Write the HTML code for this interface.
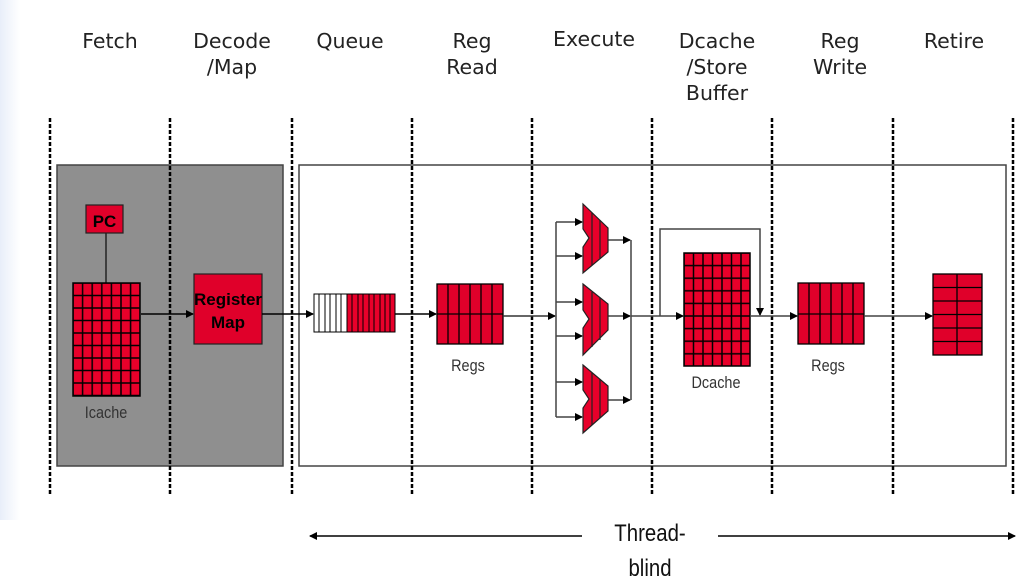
<!DOCTYPE html>
<html><head><meta charset="utf-8"><style>
html,body{margin:0;padding:0;background:#fff;}
svg{display:block;}
</style></head><body>
<svg width="1036" height="588" viewBox="0 0 1036 588" xmlns="http://www.w3.org/2000/svg">
<defs>
<linearGradient id="lg" x1="0" x2="1"><stop offset="0" stop-color="#e8eef9"/><stop offset="1" stop-color="#ffffff"/></linearGradient>
<marker id="ah" markerWidth="8" markerHeight="8" refX="7" refY="4" orient="auto" markerUnits="userSpaceOnUse"><path d="M0,0 L8,4 L0,8 z" fill="#000"/></marker>
<pattern id="icg" x="73" y="283" width="9.6" height="12.5" patternUnits="userSpaceOnUse"><rect width="9.6" height="12.5" fill="#e8002a" stroke="#000" stroke-width="1.5"/></pattern>
<pattern id="dcg" x="684" y="253" width="9.5" height="12.6" patternUnits="userSpaceOnUse"><rect width="9.5" height="12.6" fill="#e8002a" stroke="#000" stroke-width="1.5"/></pattern>
</defs>
<rect x="0" y="0" width="20" height="520" fill="url(#lg)"/>
<g font-family="DejaVu Sans, sans-serif" font-size="20.5" fill="#222" text-anchor="middle">
<text x="110" y="48">Fetch</text>
<text x="232" y="48">Decode</text><text x="232" y="74">/Map</text>
<text x="350" y="48">Queue</text>
<text x="472" y="48">Reg</text><text x="472" y="74">Read</text>
<text x="594" y="46">Execute</text>
<text x="717" y="48">Dcache</text><text x="717" y="74">/Store</text><text x="717" y="100">Buffer</text>
<text x="840" y="48">Reg</text><text x="840" y="74">Write</text>
<text x="954" y="48">Retire</text>
</g>
<rect x="57" y="165" width="226" height="301" fill="#8f8f8f" stroke="#444" stroke-width="1.5"/>
<rect x="299" y="165" width="707" height="301" fill="#fff" stroke="#444" stroke-width="1.5"/>
<g stroke="#000" stroke-width="2.5" stroke-dasharray="4,2">
<line x1="50" y1="118" x2="50" y2="494"/><line x1="170" y1="118" x2="170" y2="494"/>
<line x1="292" y1="118" x2="292" y2="494"/><line x1="412" y1="118" x2="412" y2="494"/>
<line x1="532" y1="118" x2="532" y2="494"/><line x1="652" y1="118" x2="652" y2="494"/>
<line x1="772" y1="118" x2="772" y2="494"/><line x1="893" y1="118" x2="893" y2="494"/>
<line x1="1013" y1="118" x2="1013" y2="494"/>
</g>
<line x1="106" y1="233" x2="106" y2="283" stroke="#222" stroke-width="1.5"/>
<rect x="86" y="205" width="37" height="28" fill="#e0002a" stroke="#222" stroke-width="1.2"/>
<text x="104.5" y="227" font-family="Liberation Sans, sans-serif" font-weight="bold" font-size="17" text-anchor="middle">PC</text>
<rect x="73" y="283" width="67" height="113" fill="url(#icg)" stroke="#000" stroke-width="1.5"/>
<text x="106" y="418" font-family="Liberation Sans, sans-serif" font-size="17" fill="#333" text-anchor="middle" transform="translate(106 0) scale(0.85 1) translate(-106 0)">Icache</text>
<line x1="141" y1="314" x2="193" y2="314" stroke="#000" stroke-width="1.5" marker-end="url(#ah)"/>
<rect x="194" y="274" width="68" height="70" fill="#e0002a" stroke="#222" stroke-width="1.2"/>
<text x="228" y="305" font-family="Liberation Sans, sans-serif" font-weight="bold" font-size="17" text-anchor="middle">Register</text>
<text x="228" y="328" font-family="Liberation Sans, sans-serif" font-weight="bold" font-size="17" text-anchor="middle">Map</text>
<line x1="262" y1="314" x2="313" y2="314" stroke="#000" stroke-width="1.5" marker-end="url(#ah)"/>
<rect x="314" y="294" width="81" height="38" fill="#fff" stroke="#000" stroke-width="1"/>
<rect x="347" y="294" width="48" height="38" fill="#e8002a"/>
<g stroke="#000" stroke-width="1">
<line x1="319" y1="294" x2="319" y2="332"/><line x1="325" y1="294" x2="325" y2="332"/><line x1="330" y1="294" x2="330" y2="332"/><line x1="336" y1="294" x2="336" y2="332"/><line x1="341" y1="294" x2="341" y2="332"/><line x1="347" y1="294" x2="347" y2="332"/>
<line x1="352" y1="294" x2="352" y2="332"/><line x1="358" y1="294" x2="358" y2="332"/><line x1="363" y1="294" x2="363" y2="332"/><line x1="369" y1="294" x2="369" y2="332"/><line x1="374" y1="294" x2="374" y2="332"/><line x1="380" y1="294" x2="380" y2="332"/><line x1="385" y1="294" x2="385" y2="332"/><line x1="390" y1="294" x2="390" y2="332"/>
<rect x="314" y="294" width="81" height="38" fill="none"/>
</g>
<line x1="395" y1="314" x2="436" y2="314" stroke="#000" stroke-width="1.5" marker-end="url(#ah)"/>
<g stroke="#000" stroke-width="1.3">
<rect x="437" y="284" width="66" height="60" fill="#e0002a"/>
<line x1="448" y1="284" x2="448" y2="344"/><line x1="459" y1="284" x2="459" y2="344"/><line x1="470" y1="284" x2="470" y2="344"/><line x1="481" y1="284" x2="481" y2="344"/><line x1="492" y1="284" x2="492" y2="344"/>
<line x1="437" y1="314" x2="503" y2="314"/>
</g>
<text x="468" y="371" font-family="Liberation Sans, sans-serif" font-size="17" fill="#333" text-anchor="middle" transform="translate(468 0) scale(0.85 1) translate(-468 0)">Regs</text>
<line x1="503" y1="316" x2="555" y2="316" stroke="#333" stroke-width="1.5" marker-end="url(#ah)"/>
<g stroke="#444" stroke-width="1.5" fill="none">
<line x1="556" y1="222" x2="556" y2="417"/>
<line x1="556" y1="222" x2="582" y2="222" marker-end="url(#ah)"/>
<line x1="556" y1="256" x2="582" y2="256" marker-end="url(#ah)"/>
<line x1="556" y1="302" x2="582" y2="302" marker-end="url(#ah)"/>
<line x1="556" y1="336" x2="582" y2="336" marker-end="url(#ah)"/>
<line x1="556" y1="382" x2="582" y2="382" marker-end="url(#ah)"/>
<line x1="556" y1="417" x2="582" y2="417" marker-end="url(#ah)"/>
<line x1="608" y1="240" x2="630" y2="240" marker-end="url(#ah)"/>
<line x1="608" y1="316" x2="630" y2="316" marker-end="url(#ah)"/>
<line x1="608" y1="400" x2="630" y2="400" marker-end="url(#ah)"/>
<line x1="631" y1="240" x2="631" y2="400"/>
<line x1="631" y1="316" x2="683" y2="316" marker-end="url(#ah)"/>
<polyline points="660,316 660,229 760,229 760,315" marker-end="url(#ah)"/>
</g>
<g stroke="#222" stroke-width="1.2" fill="#e8002a">
<path d="M583,204 L608,228 L608,252 L583,273 L583,247 L589,238 L583,229 Z"/>
<path d="M583,284 L608,304 L608,330 L583,355 L583,328 L589,319 L583,310 Z"/>
<path d="M583,365 L608,386 L608,411 L583,433 L583,408 L589,399 L583,390 Z"/>
<line x1="592" y1="213" x2="592" y2="265"/><line x1="600" y1="220" x2="600" y2="258"/>
<line x1="592" y1="292" x2="592" y2="347"/><line x1="600" y1="298" x2="600" y2="340"/>
<line x1="592" y1="373" x2="592" y2="425"/><line x1="600" y1="379" x2="600" y2="418"/>
</g>
<rect x="684" y="253" width="66" height="113" fill="url(#dcg)" stroke="#000" stroke-width="1.5"/>
<text x="716" y="388" font-family="Liberation Sans, sans-serif" font-size="17" fill="#333" text-anchor="middle" transform="translate(716 0) scale(0.85 1) translate(-716 0)">Dcache</text>
<line x1="750" y1="316" x2="797" y2="316" stroke="#444" stroke-width="1.5" marker-end="url(#ah)"/>
<g stroke="#000" stroke-width="1.3">
<rect x="798" y="283" width="66" height="61" fill="#e0002a"/>
<line x1="809" y1="283" x2="809" y2="344"/><line x1="820" y1="283" x2="820" y2="344"/><line x1="831" y1="283" x2="831" y2="344"/><line x1="842" y1="283" x2="842" y2="344"/><line x1="853" y1="283" x2="853" y2="344"/>
<line x1="798" y1="314" x2="864" y2="314"/>
</g>
<text x="828" y="371" font-family="Liberation Sans, sans-serif" font-size="17" fill="#333" text-anchor="middle" transform="translate(828 0) scale(0.85 1) translate(-828 0)">Regs</text>
<line x1="864" y1="316" x2="932" y2="316" stroke="#444" stroke-width="1.5" marker-end="url(#ah)"/>
<g stroke="#000" stroke-width="1.3">
<rect x="933" y="274" width="49" height="81" fill="#e0002a"/>
<line x1="957" y1="274" x2="957" y2="355"/>
<line x1="933" y1="287.5" x2="982" y2="287.5"/><line x1="933" y1="301" x2="982" y2="301"/><line x1="933" y1="314.5" x2="982" y2="314.5"/><line x1="933" y1="328" x2="982" y2="328"/><line x1="933" y1="341.5" x2="982" y2="341.5"/>
</g>
<line x1="582" y1="536" x2="310" y2="536" stroke="#000" stroke-width="1.5" marker-end="url(#ah)"/>
<line x1="718" y1="536" x2="1015" y2="536" stroke="#000" stroke-width="1.5" marker-end="url(#ah)"/>
<g font-family="Liberation Sans, sans-serif" font-size="24" fill="#111" text-anchor="middle">
<text x="650" y="541" transform="translate(650 0) scale(0.85 1) translate(-650 0)">Thread-</text>
<text x="650" y="576" transform="translate(650 0) scale(0.85 1) translate(-650 0)">blind</text>
</g>
</svg>
</body></html>
